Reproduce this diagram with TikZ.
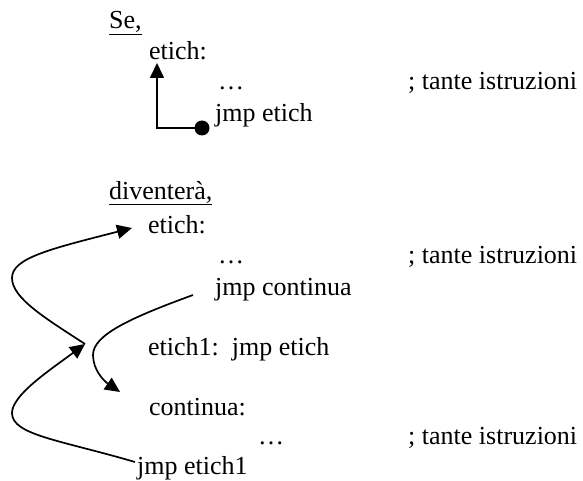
\documentclass[tikz,border=0pt]{standalone}
\usepackage{fontspec}
\setmainfont{Liberation Serif}
\usetikzlibrary{arrows.meta}
\begin{document}
\begin{tikzpicture}[x=1pt,y=-1pt,
  txt/.style={anchor=base west,inner sep=0pt,font=\fontsize{26}{30}\selectfont},
  link/.style={line width=1.7pt,-{Triangle[length=15pt,width=14pt]}},
  dotnode/.style={circle,fill=black,inner sep=0pt,minimum size=15pt}]
\useasboundingbox (0,0) rectangle (583,481);
% top part
\node[txt] (se) at (109,29) {\underline{Se,}};
\node[txt] (e0) at (149,60) {etich:};
\node[txt] (d0) at (218,90) {…};
\node[txt] (c0) at (408,90) {; tante istruzioni};
\node[txt] (j0) at (215,122) {jmp etich};
\node[dotnode] (dot) at (202,128) {};
\coordinate (up) at (157,63);
\draw[link] (dot.center) -| (up);
% bottom part
\node[txt] (dv) at (109,199) {\underline{diventerà,}};
\node[txt] (e1) at (148,233) {etich:};
\node[txt] (d1) at (218,263) {…};
\node[txt] (c1) at (408,263) {; tante istruzioni};
\node[txt] (jc) at (215,295) {jmp continua};
\node[txt] (e2) at (148,355) {etich1:\ \ jmp etich};
\node[txt] (co) at (149,415) {continua:};
\node[txt] (d2) at (258,444) {…};
\node[txt] (c2) at (408,444) {; tante istruzioni};
\node[txt] (je) at (137,474) {jmp etich1};
% connectors
\coordinate (jn) at (85,344);
\coordinate (tE) at (132,228);
\coordinate (sC) at (193,295);
\coordinate (tC) at (120,392);
\coordinate (sJ) at (135,462);
\draw[link] (jn) .. controls (45,318) and (12,298) .. (12,278)
   .. controls (12,258) and (50,249) .. (tE);
\draw[link] (sC) .. controls (130,318) and (93,335) .. (93,355)
   .. controls (93,370) and (104,381) .. (tC);
\draw[link] (sJ) .. controls (60,440) and (12,435) .. (12,413)
   .. controls (12,395) and (50,370) .. (jn);
\end{tikzpicture}
\end{document}
